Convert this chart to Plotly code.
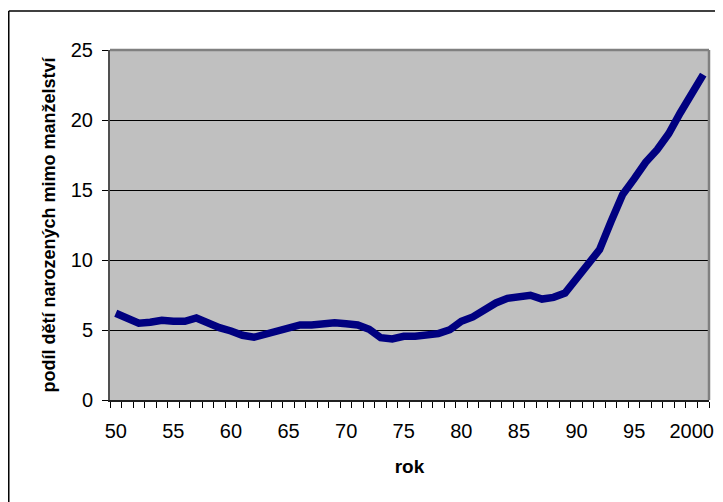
import plotly.graph_objects as go

years = list(range(1950, 2002))
share = [6.2, 5.83, 5.48, 5.55, 5.7, 5.62, 5.62, 5.86, 5.48, 5.17,
         4.93, 4.62, 4.48, 4.71, 4.86, 5.05, 5.36, 5.36, 5.45, 5.52,
         5.45, 5.36, 5.05, 4.45, 4.36, 4.55, 4.55, 4.64, 4.74, 5.02,
         5.62, 5.93, 6.5, 6.93, 7.26, 7.36, 7.48, 7.21, 7.33, 7.64,
         8.64, 9.83, 10.74, 12.76, 14.67, 15.79, 16.98, 17.88, 19.02, 20.5,
         21.93, 23.24]
tick_years = list(range(1950, 2001, 5))
tick_text = ["50", "55", "60", "65", "70", "75", "80", "85", "90", "95", "2000"]

FONT = "Liberation Sans, Arial, sans-serif"

fig = go.Figure()
fig.add_trace(go.Scatter(
    x=years, y=share, mode="lines",
    line=dict(color="#000080", width=7.5),
    hoverinfo="x+y", showlegend=False,
))

# page body has an 8px offset, margins compensate for it
fig.update_layout(
    width=723, height=502,
    margin=dict(l=102, r=22, t=42, b=110, autoexpand=False),
    paper_bgcolor="white",
    plot_bgcolor="#C0C0C0",
    font=dict(family=FONT, color="black", size=20),
    showlegend=False,
)

fig.update_xaxes(
    range=[1949.5, 2001.5],
    tickmode="array", tickvals=tick_years, ticktext=tick_text,
    ticks="", ticklabelstandoff=12,
    tickfont=dict(size=20),
    showgrid=False, zeroline=False,
    showline=True, linecolor="#202020", linewidth=2,
    minor=dict(ticks="outside", tick0=1949.5, dtick=1, ticklen=6,
               tickcolor="black", tickwidth=1, showgrid=False),
    title=dict(text="<b>rok</b>", font=dict(size=19), standoff=19),
    fixedrange=True,
)
fig.update_yaxes(
    range=[0, 25],
    tickmode="array", tickvals=[0, 5, 10, 15, 20, 25],
    ticks="outside", ticklen=6, tickcolor="black", tickwidth=1,
    ticklabelstandoff=5,
    tickfont=dict(size=20),
    showgrid=True, gridcolor="black", gridwidth=1,
    zeroline=False,
    showline=True, linecolor="#505050", linewidth=2,
    title=dict(text="<b>podíl dětí narozených mimo manželství</b>",
               font=dict(size=18), standoff=10),
    fixedrange=True,
)

# plot area border (top & right, gray)
fig.add_shape(type="line", xref="paper", yref="paper", x0=0, x1=1, y0=1, y1=1,
              line=dict(color="#808080", width=2.5), layer="above")
fig.add_shape(type="line", xref="paper", yref="paper", x0=1, x1=1, y0=0, y1=1,
              line=dict(color="#808080", width=2.5), layer="above")
# outer chart border (left & top visible)
fig.add_shape(type="line", xref="paper", yref="paper",
              x0=-0.169, x1=1.2, y0=1.1114, y1=1.1114,
              line=dict(color="black", width=1.5))
fig.add_shape(type="line", xref="paper", yref="paper",
              x0=-0.169, x1=-0.169, y0=1.1114, y1=-0.4,
              line=dict(color="black", width=1.5))

fig.write_html("out.html")
